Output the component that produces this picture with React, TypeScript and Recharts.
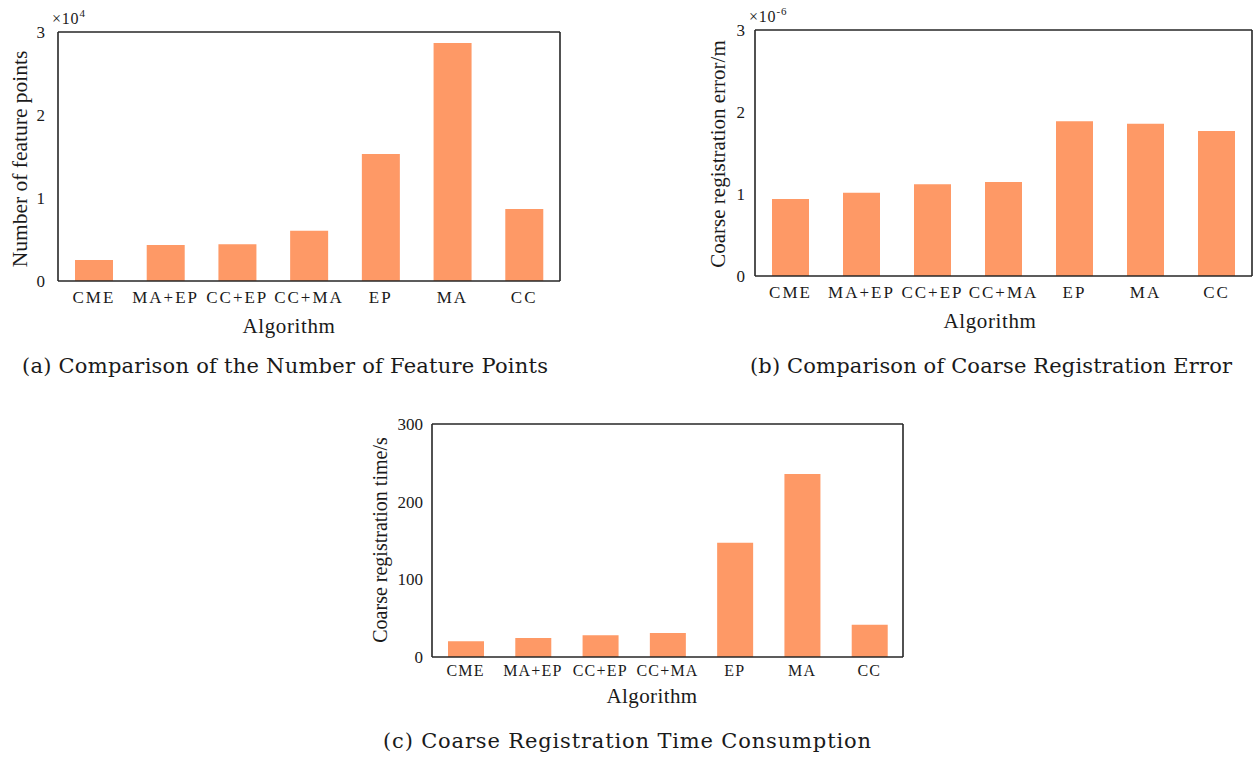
import React from 'react';
import { BarChart, Bar, Line, XAxis, YAxis } from 'recharts';

const categories = ['CME', 'MA+EP', 'CC+EP', 'CC+MA', 'EP', 'MA', 'CC'];
const featurePoints = [2530, 4340, 4420, 6060, 15300, 28670, 8670];
const registrationError = [0.94e-6, 1.016e-6, 1.118e-6, 1.146e-6, 1.886e-6, 1.857e-6, 1.768e-6];
const registrationTime = [20.2, 24.5, 27.9, 30.9, 147.2, 235.6, 41.6];

const featureTicks = [0, 10000, 20000, 30000];
const errorTicks = [0, 1e-6, 2e-6, 3e-6];
const timeTicks = [0, 100, 200, 300];

const FONT = '"Liberation Serif", "Times New Roman", serif';
const CAPTION_FONT = '"DejaVu Serif", serif';
const BAR = '#FE9966';
const AXIS = '#262626';
const TEXT = '#1a1a1a';

type PanelProps = {
  values: number[];
  left: number;
  top: number;
  width: number;
  height: number;
  margin: { top: number; right: number; bottom: number; left: number };
  yAxisWidth: number;
  domain: [number, number];
  ticks: number[];
  fmt: (v: number) => string;
  barSize: number;
  yTickMargin: number;
  xTickMargin: number;
  xFontSize: number;
  xSpacing: number;
};

function Panel(p: PanelProps) {
  const data = categories.map((name, i) => ({ name, value: p.values[i] }));
  const axisLine = { stroke: AXIS, strokeWidth: 1.6 };
  const m = { ...p.margin, top: p.margin.top - 1, right: p.margin.right - 1 };
  return (
    <div style={{ position: 'absolute', left: p.left, top: p.top }}>
      <BarChart width={p.width} height={p.height} data={data} margin={m}>
        <XAxis
          dataKey="name"
          interval={0}
          height={30}
          axisLine={axisLine}
          tickLine={false}
          tickMargin={p.xTickMargin}
          tick={{ fontFamily: FONT, fontSize: p.xFontSize, fill: TEXT, letterSpacing: p.xSpacing }}
        />
        <XAxis
          xAxisId="top"
          dataKey="name"
          orientation="top"
          height={1}
          tick={false}
          tickLine={false}
          axisLine={axisLine}
        />
        <YAxis
          domain={p.domain}
          ticks={p.ticks}
          tickFormatter={p.fmt}
          width={p.yAxisWidth}
          axisLine={axisLine}
          tickLine={false}
          tickMargin={p.yTickMargin}
          tick={{ fontFamily: FONT, fontSize: 17, fill: TEXT }}
        />
        <YAxis
          yAxisId="right"
          orientation="right"
          domain={p.domain}
          width={1}
          tick={false}
          tickLine={false}
          axisLine={axisLine}
        />
        <Bar dataKey="value" fill={BAR} barSize={p.barSize} isAnimationActive={false} />
        <Line
          xAxisId="top"
          yAxisId="right"
          dataKey="value"
          stroke="none"
          dot={false}
          activeDot={false}
          legendType="none"
          isAnimationActive={false}
        />
      </BarChart>
    </div>
  );
}

export default function App() {
  return (
    <div style={{ position: 'absolute', left: 0, top: 0, width: 1255, height: 758, background: '#fff' }}>
      <Panel
        values={featurePoints}
        left={0}
        top={0}
        width={600}
        height={340}
        margin={{ top: 32, right: 40, bottom: 29, left: 18 }}
        yAxisWidth={40}
        domain={[0, 30000]}
        ticks={featureTicks}
        fmt={(v) => String(Math.round(v / 1e4))}
        barSize={38}
        yTickMargin={7}
        xTickMargin={4}
        xFontSize={17}
        xSpacing={2}
      />
      <Panel
        values={registrationError}
        left={700}
        top={0}
        width={555}
        height={340}
        margin={{ top: 30, right: 3, bottom: 34, left: 15 }}
        yAxisWidth={40}
        domain={[0, 3e-6]}
        ticks={errorTicks}
        fmt={(v) => String(Math.round(v * 1e6))}
        barSize={37}
        yTickMargin={4}
        xTickMargin={4}
        xFontSize={17}
        xSpacing={2}
      />
      <Panel
        values={registrationTime}
        left={340}
        top={400}
        width={600}
        height={300}
        margin={{ top: 24, right: 37, bottom: 13, left: 42 }}
        yAxisWidth={50}
        domain={[0, 300]}
        ticks={timeTicks}
        fmt={(v) => String(Math.round(v))}
        barSize={36}
        yTickMargin={3}
        xTickMargin={2}
        xFontSize={16}
        xSpacing={1.2}
      />
      <svg
        width={1255}
        height={758}
        style={{ position: 'absolute', left: 0, top: 0, pointerEvents: 'none' }}
      >
        <g fontFamily={FONT} fill={TEXT}>
          <text x={52} y={24} fontSize={16} letterSpacing={0.8}>
            ×10<tspan fontSize={11} dy={-7}>4</tspan>
          </text>
          <text x={749} y={22} fontSize={16} letterSpacing={0.8}>
            ×10<tspan fontSize={11} dy={-7}>-6</tspan>
          </text>
          <text transform="translate(27,159) rotate(-90)" textAnchor="middle" fontSize={21.5}>
            Number of feature points
          </text>
          <text transform="translate(725,154) rotate(-90)" textAnchor="middle" fontSize={21}>
            Coarse registration error/m
          </text>
          <text transform="translate(387,540) rotate(-90)" textAnchor="middle" fontSize={20}>
            Coarse registration time/s
          </text>
          <text x={289} y={333} textAnchor="middle" fontSize={21} letterSpacing={0.6}>Algorithm</text>
          <text x={990} y={328} textAnchor="middle" fontSize={21} letterSpacing={0.6}>Algorithm</text>
          <text x={652} y={703} textAnchor="middle" fontSize={21} letterSpacing={0.4}>Algorithm</text>
        </g>
        <g fontFamily={CAPTION_FONT} fill={TEXT} fontSize={21}>
          <text x={22} y={373} textLength={526} lengthAdjust="spacing">
            (a) Comparison of the Number of Feature Points
          </text>
          <text x={750} y={373} textLength={482} lengthAdjust="spacing">
            (b) Comparison of Coarse Registration Error
          </text>
          <text x={383} y={748} textLength={488} lengthAdjust="spacing">
            (c) Coarse Registration Time Consumption
          </text>
        </g>
      </svg>
    </div>
  );
}
